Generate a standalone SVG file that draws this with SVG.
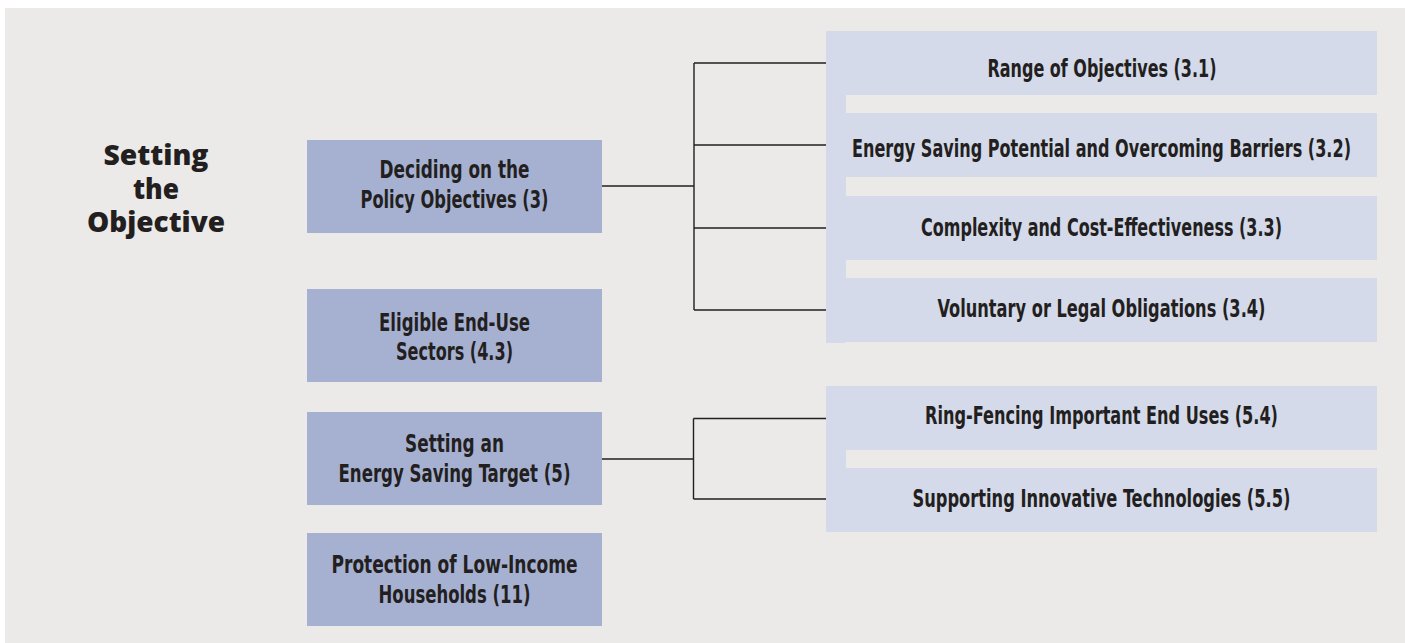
<svg xmlns="http://www.w3.org/2000/svg" width="1405" height="643" viewBox="0 0 1405 643">
  <style>
    .panel { fill: #ebeae8; }
    .main { fill: #a6b1d2; }
    .sub { fill: #d4daea; }
    .lbl { font-family: "Liberation Sans Narrow", "DejaVu Sans Condensed", "Liberation Sans", sans-serif; font-weight: bold; font-size: 24px; fill: #231f20; text-anchor: middle; }
    .title { font-family: "Open Sans", "Noto Sans", "DejaVu Sans", sans-serif; font-weight: 800; font-size: 29px; fill: #231f20; text-anchor: middle; }
    .link { fill: none; stroke: #231f20; stroke-width: 1.4; }
  </style>

  <!-- page and panel -->
  <rect x="0" y="0" width="1405" height="643" fill="#ffffff"/>
  <rect class="panel" x="5" y="8" width="1400" height="635"/>

  <!-- heading -->
  <g id="heading">
    <text class="title" x="156" y="165" textLength="105" lengthAdjust="spacingAndGlyphs">Setting</text>
    <text class="title" x="156" y="198.5" textLength="46" lengthAdjust="spacingAndGlyphs">the</text>
    <text class="title" x="156" y="232" textLength="138" lengthAdjust="spacingAndGlyphs">Objective</text>
  </g>

  <!-- connectors -->
  <g id="connectors">
    <path class="link" d="M602 186 H694 M694 63 V310 M694 63 H826 M694 145 H826 M694 228 H826 M694 310 H826"/>
    <path class="link" d="M602 459 H693.5 M693.5 418.5 V499 M693.5 418.5 H826 M693.5 499 H826"/>
  </g>

  <!-- main topics -->
  <g id="policy-objectives">
    <rect class="main" x="307" y="140" width="295" height="93"/>
    <text class="lbl" x="454.5" y="178" textLength="150" lengthAdjust="spacingAndGlyphs">Deciding on the</text>
    <text class="lbl" x="454.5" y="207.5" textLength="188" lengthAdjust="spacingAndGlyphs">Policy Objectives (3)</text>
  </g>
  <g id="end-use-sectors">
    <rect class="main" x="307" y="289" width="295" height="93"/>
    <text class="lbl" x="454.5" y="330.5" textLength="151" lengthAdjust="spacingAndGlyphs">Eligible End-Use</text>
    <text class="lbl" x="454.5" y="360" textLength="117" lengthAdjust="spacingAndGlyphs">Sectors (4.3)</text>
  </g>
  <g id="saving-target">
    <rect class="main" x="307" y="412" width="295" height="93"/>
    <text class="lbl" x="454.5" y="452.3" textLength="99" lengthAdjust="spacingAndGlyphs">Setting an</text>
    <text class="lbl" x="454.5" y="482.3" textLength="232" lengthAdjust="spacingAndGlyphs">Energy Saving Target (5)</text>
  </g>
  <g id="low-income">
    <rect class="main" x="307" y="533" width="295" height="93"/>
    <text class="lbl" x="454.5" y="573.3" textLength="246" lengthAdjust="spacingAndGlyphs">Protection of Low-Income</text>
    <text class="lbl" x="454.5" y="603" textLength="152" lengthAdjust="spacingAndGlyphs">Households (11)</text>
  </g>

  <!-- sub-topic spines -->
  <g id="spines">
    <rect class="sub" x="826" y="31" width="20" height="312"/>
    <rect class="sub" x="826" y="386" width="20" height="146"/>
  </g>

  <!-- sub-topics of section 3 -->
  <g id="range-objectives">
    <rect class="sub" x="826" y="31" width="551" height="64"/>
    <text class="lbl" x="1102" y="76.7" textLength="229" lengthAdjust="spacingAndGlyphs">Range of Objectives (3.1)</text>
  </g>
  <g id="saving-potential">
    <rect class="sub" x="826" y="113" width="551" height="64"/>
    <text class="lbl" x="1101.5" y="156.7" textLength="499" lengthAdjust="spacingAndGlyphs">Energy Saving Potential and Overcoming Barriers (3.2)</text>
  </g>
  <g id="cost-effectiveness">
    <rect class="sub" x="826" y="196" width="551" height="64"/>
    <text class="lbl" x="1101.5" y="235.7" textLength="361" lengthAdjust="spacingAndGlyphs">Complexity and Cost-Effectiveness (3.3)</text>
  </g>
  <g id="obligations">
    <rect class="sub" x="826" y="278" width="551" height="64"/>
    <text class="lbl" x="1101.5" y="316.7" textLength="328" lengthAdjust="spacingAndGlyphs">Voluntary or Legal Obligations (3.4)</text>
  </g>

  <!-- sub-topics of section 5 -->
  <g id="ring-fencing">
    <rect class="sub" x="826" y="386" width="551" height="64"/>
    <text class="lbl" x="1101.5" y="424" textLength="353" lengthAdjust="spacingAndGlyphs">Ring-Fencing Important End Uses (5.4)</text>
  </g>
  <g id="innovative-tech">
    <rect class="sub" x="826" y="468" width="551" height="64"/>
    <text class="lbl" x="1101.5" y="506.7" textLength="378" lengthAdjust="spacingAndGlyphs">Supporting Innovative Technologies (5.5)</text>
  </g>
</svg>
